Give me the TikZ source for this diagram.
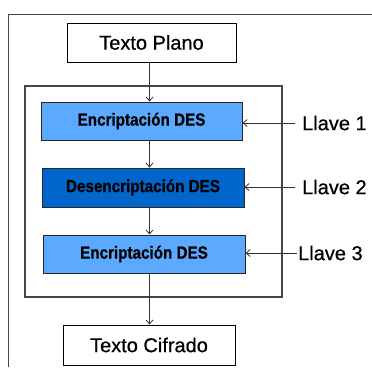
\documentclass[tikz,border=0pt]{standalone}
\usepackage{fontspec}
\setmainfont{Liberation Sans}
\newfontfamily\labelfont[FakeBold=0.6]{Liberation Sans}
\newfontfamily\boxfont[FakeStretch=0.87,FakeBold=0.8]{Liberation Sans}
\usetikzlibrary{arrows.meta}
\definecolor{lightdes}{RGB}{92,170,255}
\definecolor{darkdes}{RGB}{0,102,204}
\definecolor{framegray}{RGB}{70,70,70}
\tikzset{
  plainbox/.style={draw=black, line width=1pt, fill=white, inner sep=0pt,
    font=\labelfont\fontsize{20}{24}\selectfont},
  desbox/.style={draw=black!85, line width=1pt, inner sep=0pt,
    font=\boxfont\bfseries\fontsize{17.5}{21}\selectfont},
  keylabel/.style={anchor=west, inner sep=0pt, font=\labelfont\fontsize{20}{24}\selectfont},
  flow/.style={draw=black!80, line width=0.9pt,
    -{Straight Barb[length=4pt,width=7pt,line width=0.8pt]}},
  stagebox/.style={draw=framegray, line width=1.4pt, inner sep=0pt}
}
\begin{document}
\begin{tikzpicture}[x=1pt,y=-1pt]
  \useasboundingbox (0,0) rectangle (372,367);

  % outer frame edge
  \draw[framegray, line width=1.6pt] (372,14.5) -- (8.5,14.5) -- (8.5,367);

  % triple-DES stage enclosure
  \node[stagebox, minimum width=257pt, minimum height=211pt] (stage) at (153.5,191.5) {};

  % input and output
  \node[plainbox, minimum width=169pt, minimum height=39pt] (tp) at (151.5,42.5) {Texto Plano};
  \node[plainbox, minimum width=172pt, minimum height=40pt] (tc) at (149,345) {Texto Cifrado};

  % DES stages
  \node[desbox, fill=lightdes, minimum width=201pt, minimum height=38pt] (e1) at (141.5,121) {Encriptación DES};
  \node[desbox, fill=darkdes, minimum width=202pt, minimum height=39pt] (d2) at (143,187.5) {Desencriptación DES};
  \node[desbox, fill=lightdes, minimum width=202pt, minimum height=38pt] (e3) at (144,254) {Encriptación DES};

  % keys
  \node[keylabel] (k1) at (302,123) {Llave 1};
  \node[keylabel] (k2) at (302,187) {Llave 2};
  \node[keylabel] (k3) at (298,253) {Llave 3};

  % data path
  \coordinate (axis) at (149.5,0);
  \draw[flow] (tp.south -| axis) -- (e1.north -| axis);
  \draw[flow] (e1.south -| axis) -- (d2.north -| axis);
  \draw[flow] (d2.south -| axis) -- (e3.north -| axis);
  \draw[flow] (e3.south -| axis) -- (tc.north -| axis);

  % key inputs
  \draw[flow] ([xshift=-7pt]k1.west) -- (k1.west -| e1.east);
  \draw[flow] ([xshift=-7pt]k2.west) -- (k2.west -| d2.east);
  \draw[flow] ([xshift=-1pt]k3.west) -- (k3.west -| e3.east);
\end{tikzpicture}
\end{document}
